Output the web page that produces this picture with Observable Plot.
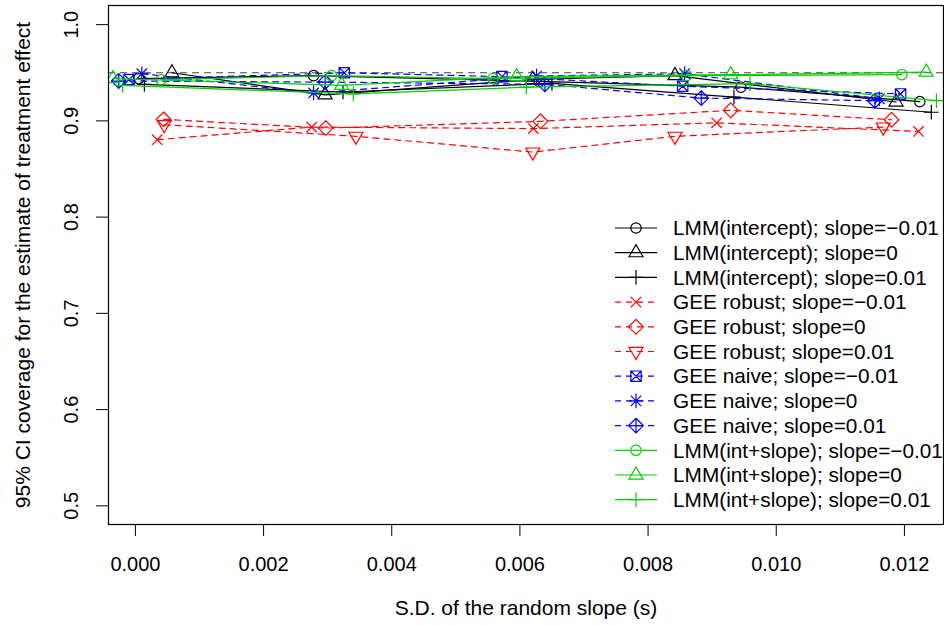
<!DOCTYPE html>
<html><head><meta charset="utf-8">
<script src="https://cdn.jsdelivr.net/npm/d3@7"></script>
<script src="https://cdn.jsdelivr.net/npm/@observablehq/plot@0.6"></script>
<style>
body{margin:0;background:#fff}
#chart{position:relative;width:944px;height:625px}
svg{font-family:"Liberation Sans",Arial,Helvetica,sans-serif}
</style>
</head><body><div id="chart"></div>
<script>
// ---- data ----
const seriesNames = [
  "LMM(intercept); slope=\u22120.01","LMM(intercept); slope=0","LMM(intercept); slope=0.01",
  "GEE robust; slope=\u22120.01","GEE robust; slope=0","GEE robust; slope=0.01",
  "GEE naive; slope=\u22120.01","GEE naive; slope=0","GEE naive; slope=0.01",
  "LMM(int+slope); slope=\u22120.01","LMM(int+slope); slope=0","LMM(int+slope); slope=0.01"
];
// jittered x positions (S.D. of random slope) and coverage values per series
const xLmmIntNeg = [0.00005, 0.00278, 0.0063, 0.00945, 0.01224];
const yLmmIntNeg = [0.944, 0.947, 0.941, 0.935, 0.920];
const xLmmIntZero = [0.00057, 0.00296, 0.0062, 0.00842, 0.01187];
const yLmmIntZero = [0.950, 0.927, 0.943, 0.947, 0.9196];
const xLmmIntPos = [0.00014, 0.00324, 0.0065, 0.00934, 0.01242];
const yLmmIntPos = [0.938, 0.930, 0.939, 0.9247, 0.909];
const xRobNeg = [0.00034, 0.00275, 0.00621, 0.00907, 0.01222];
const yRobNeg = [0.8805, 0.8936, 0.892, 0.898, 0.889];
const xRobZero = [0.00044, 0.00297, 0.00632, 0.00929, 0.0118];
const yRobZero = [0.9016, 0.8925, 0.8995, 0.911, 0.9012];
const xRobPos = [0.00045, 0.00344, 0.0062, 0.00842, 0.01167];
const yRobPos = [0.896, 0.884, 0.8676, 0.884, 0.8936];
const xNaiNeg = [-0.0001, 0.00326, 0.00572, 0.00854, 0.01194];
const yNaiNeg = [0.943, 0.950, 0.946, 0.936, 0.928];
const xNaiZero = [0.0001, 0.00278, 0.00626, 0.00857, 0.01161];
const yNaiZero = [0.949, 0.929, 0.9466, 0.949, 0.923];
const xNaiPos = [-0.00026, 0.00296, 0.00639, 0.00883, 0.01154];
const yNaiPos = [0.9414, 0.9403, 0.938, 0.9237, 0.921];
const xSlpNeg = [0.0004, 0.00306, 0.00558, 0.0086, 0.01196];
const ySlpNeg = [0.9428, 0.947, 0.944, 0.947, 0.948];
const xSlpZero = [-0.00035, 0.00322, 0.00595, 0.00929, 0.01234];
const ySlpZero = [0.944, 0.937, 0.946, 0.948, 0.9507];
const xSlpPos = [-0.0002, 0.0034, 0.0061, 0.00959, 0.0125];
const ySlpPos = [0.937, 0.928, 0.935, 0.9387, 0.921];

const nominal = [0.95];
const xTicks = [0, 0.002, 0.004, 0.006, 0.008, 0.010, 0.012];
const yTicks = [0.5, 0.6, 0.7, 0.8, 0.9, 1.0];
const xTitle = "S.D. of the random slope (s)";
const yTitle = "95% CI coverage for the estimate of treatment effect";

// ---- R-like symbols ----
const R = 5.2;
const S2 = Math.SQRT2;
function sym(f){ return {draw(c, size){ const u = Math.sqrt(size/Math.PI); f(c,u); }}; }
const line = (c,x1,y1,x2,y2)=>{c.moveTo(x1,y1);c.lineTo(x2,y2);};
const symCircle = sym((c,u)=>{c.moveTo(u,0);c.arc(0,0,u,0,2*Math.PI);});
const symTriUp = sym((c,u)=>{const r=1.5551*u,yc=0.7776*u,xc=1.3468*u;c.moveTo(0,-r);c.lineTo(xc,yc);c.lineTo(-xc,yc);c.closePath();});
const symTriDown = sym((c,u)=>{const r=1.5551*u,yc=0.7776*u,xc=1.3468*u;c.moveTo(0,r);c.lineTo(xc,-yc);c.lineTo(-xc,-yc);c.closePath();});
const symPlus = sym((c,u)=>{const s=S2*u;line(c,-s,0,s,0);line(c,0,-s,0,s);});
const symTimes = sym((c,u)=>{line(c,-u,-u,u,u);line(c,-u,u,u,-u);});
const symDiamond = sym((c,u)=>{const s=S2*u;c.moveTo(0,-s);c.lineTo(s,0);c.lineTo(0,s);c.lineTo(-s,0);c.closePath();});
const symSquareX = sym((c,u)=>{c.moveTo(-u,-u);c.lineTo(u,-u);c.lineTo(u,u);c.lineTo(-u,u);c.closePath();line(c,-u,-u,u,u);line(c,-u,u,u,-u);});
const symAsterisk = sym((c,u)=>{line(c,-u,-u,u,u);line(c,-u,u,u,-u);const s=S2*u;line(c,-s,0,s,0);line(c,0,-s,0,s);});
const symDiamondPlus = sym((c,u)=>{const s=S2*u;c.moveTo(0,-s);c.lineTo(s,0);c.lineTo(0,s);c.lineTo(-s,0);c.closePath();line(c,-s,0,s,0);line(c,0,-s,0,s);});

const black="#000000", red="#FF0000", blue="#0000FF", green="#00CD00";
const dash = "6,5";
const style = [
  {xs:xLmmIntNeg, ys:yLmmIntNeg, col:black, dash:null, sym:symCircle},
  {xs:xLmmIntZero, ys:yLmmIntZero, col:black, dash:null, sym:symTriUp},
  {xs:xLmmIntPos, ys:yLmmIntPos, col:black, dash:null, sym:symPlus},
  {xs:xRobNeg, ys:yRobNeg, col:red, dash:dash, sym:symTimes},
  {xs:xRobZero, ys:yRobZero, col:red, dash:dash, sym:symDiamond},
  {xs:xRobPos, ys:yRobPos, col:red, dash:dash, sym:symTriDown},
  {xs:xNaiNeg, ys:yNaiNeg, col:blue, dash:dash, sym:symSquareX},
  {xs:xNaiZero, ys:yNaiZero, col:blue, dash:dash, sym:symAsterisk},
  {xs:xNaiPos, ys:yNaiPos, col:blue, dash:dash, sym:symDiamondPlus},
  {xs:xSlpNeg, ys:ySlpNeg, col:green, dash:null, sym:symCircle},
  {xs:xSlpZero, ys:ySlpZero, col:green, dash:null, sym:symTriUp},
  {xs:xSlpPos, ys:ySlpPos, col:green, dash:null, sym:symPlus}
];

const marks = [];
marks.push(Plot.ruleY(nominal, {stroke:"#444", strokeWidth:1.2, strokeDasharray:"7,5"}));
style.forEach((s,i)=>{
  const rows = s.xs.map((x,j)=>({x, y:s.ys[j], series:seriesNames[i]}));
  marks.push(Plot.line(rows, {x:"x", y:"y", stroke:s.col, strokeWidth:1.2, strokeDasharray:s.dash||undefined, clip:true}));
  marks.push(Plot.dot(rows, {x:"x", y:"y", r:R, symbol:s.sym, stroke:s.col, fill:"none", strokeWidth:1.2, clip:true}));
});
marks.push(Plot.frame({stroke:"#000", strokeWidth:1.2}));
marks.push(Plot.axisX({ticks:xTicks, tickSize:12, tickFormat:()=>"", label:null}));
marks.push(Plot.axisY({ticks:yTicks, tickSize:12, tickFormat:()=>"", label:null}));
marks.push(Plot.text(xTicks, {x:d=>d, frameAnchor:"bottom", dy:40, lineAnchor:"middle", text:d3.format(".3f"), fontSize:20, fill:"#000"}));
marks.push(Plot.text(yTicks, {y:d=>d, frameAnchor:"left", dx:-37, rotate:-90, lineAnchor:"middle", textAnchor:"middle", text:d3.format(".1f"), fontSize:20, fill:"#000"}));
marks.push(Plot.text([xTitle], {frameAnchor:"bottom", dy:84, lineAnchor:"middle", text:d=>d, fontSize:21, fill:"#000"}));
marks.push(Plot.text([yTitle], {frameAnchor:"left", dx:-85, rotate:-90, lineAnchor:"middle", textAnchor:"middle", text:d=>d, fontSize:21, fill:"#000"}));

const chart = Plot.plot({
  width:944, height:625,
  marginLeft:108, marginTop:5, marginBottom:101, marginRight:1,
  x:{domain:[-0.00042, 0.01261], axis:null},
  y:{domain:[0.4806, 1.0199], axis:null},
  style:{fontFamily:'"Liberation Sans",Arial,sans-serif', fontSize:"20px", background:"#fff"},
  marks
});
document.getElementById("chart").appendChild(chart);

// ---- legend (R-style, bottom right, no box) ----
const svg = d3.select(chart);
const lg = svg.append("g").attr("class","legend");
style.forEach((s,i)=>{
  const y = 228 + i*24.7;
  const g = lg.append("g").attr("transform",`translate(0,${y})`);
  g.append("line").attr("x1",615).attr("x2",657).attr("y1",0).attr("y2",0)
    .attr("stroke",s.col).attr("stroke-width",1.2).attr("stroke-dasharray",s.dash);
  g.append("path").attr("transform","translate(636,0)")
    .attr("d", d3.symbol(s.sym, Math.PI*R*R)())
    .attr("fill","none").attr("stroke",s.col).attr("stroke-width",1.2);
  g.append("text").attr("x",673).attr("y",0).attr("dy","0.35em")
    .attr("text-anchor","start").attr("font-size",20.8).attr("fill","#000").text(seriesNames[i]);
});
</script>
</body></html>
